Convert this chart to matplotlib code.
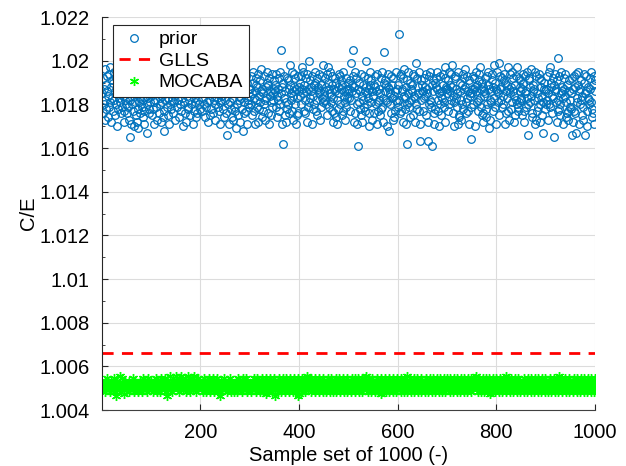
import numpy as np
import matplotlib
matplotlib.use('Agg')
import matplotlib.pyplot as plt

plt.rcParams['font.family'] = ['Liberation Sans', 'DejaVu Sans']

# prior C/E per sample: one character per sample, value = 1.0160 + 0.0001 * level
LEVELS = '0123456789abcdefghijklmnopqrstuvwxyzABCDEFGHIJKLMNOPQRSTUVWXYZ'
prior_codes = [
    'pgwkrAdmtiqxeoyjBlscvnhuzmfqkwaryiDnltgpvjoxchsmkq',
    'ngrjxd5mubkqhtoaylfpwci9lsgnkvjqexmhbpuork7ntigqls',
    'ofwirlbtmxjpdqsgykncvoleuh8rmAqjtfnxbkpsiwmgzoldrq',
    'qjxmuetBkpzhsnawlqgyrcovjiDmtfpkxqbunhrlzesgwmCkpi',
    'sqhxnBkrezjtplwcqmyfuiosAgmvkdrpxntjqhzlbwmsoiueyq',
    'mgrw6kpubtlxiqendsjyhp9rkfvmowcnqitz8lgsphxubkmrjo',
    'rkxpfuzhnqbtmwjsycoivlqAerphxkdmsnuzgtbwoqlfyjpmrv',
    'tqjyoermwhzkpJbsu2nxfqlciwvkrgtCpmhzodsyqkwbrnfxgq',
    'suoxkrBzphtmgwqycjrlEnvsqbxiotkzuhmfwrspyqdtjnxlCo',
    'qwmskyfuBrjpzolxhtcnrgwquebmsipyxkvrfthzoqdlwjnrpu',
    'rnvhDmtqJxcsgzpwbkr1luiqyfoctmxjqhsEpknwagrtzvldqo',
    'ogtsxkqbyhlrmpfwizjncIuqvtmlasyr8kpgxtndwoeqhzmlrj',
    'tQmxghyqrcwAoinsb2vkzpljuemrtqyfoxcnDkwipshzb3vmqt',
    'qhwnsoyfrp3cxkmzlj1tqvgbuiswrzhmpaxkofnqtyjlBcwrsp',
    'rvhzktqymCsgolaxwnrjpbzfeuqdmtkyiwrsAlgnxhqvbpo4jr',
    'pxkrwaszqtlhmvyBnjrfusgcqopwiexktz9rmdqlyvhsnCjubr',
    'qzlpDfrxmsjwkoyvbuqgtnBhdrpyislzwqcotfxmkBhjwlsqvn',
    'mrfuyhcpxjqnz6kwvlsoAgetqmrbzdxhpnjywkcsvofl7ruiqk',
    'rxmdpzkBjusognwt5yqlrcvhmFixfkpzsqbnrwoyeltgdhvqmj',
    'pi6wcrxhsgy7lnztqbrkmvfodjuyp6xqhasnmkrwlzeigtxbvq',
]

# MOCABA C/E per sample: one digit per sample, value = 1.00465 + 0.0001 * digit
mocaba_codes = [
    '45364527438546352473645384526037453649528364517435',
    '64537243564538264735462534736452843654736254836457',
    '35462753648253746528364573648250736459364528374659',
    '46537284659374536485273649538274658394637254836475',
    '54362748536274538462735468274536482753640725364853',
    '36452746358274635426374528364735462837456382746354',
    '45263748536274583647253648273546182736453847263548',
    '60453627485362748536274835462738453627483546273801',
    '54637284536274598365473826453748263547382645374826',
    '45362748536274836452736482536478253647382536472853',
    '53647285364728536478253647825364789364725836472583',
    '46352748362547381625374836254738264537482635472836',
    '54637285364728536492536478253647825364782536472853',
    '45362748536274853627485362748536274853627485362748',
    '53647285364728536472853647285364728536472853647285',
    '46375849536274853627485362748536274813627485362748',
    '35462748536274853692748536274853627485362748536274',
    '54637285364728536472853647285364728536472853647285',
    '46352748362547386253748362594738264537482635472836',
    '53647285364728536472853647285364728536472853647285',
]

glls_value = 1.00660

prior = np.array([1.0160 + 0.0001 * LEVELS.index(c) for c in ''.join(prior_codes)])
mocaba = np.array([1.00465 + 0.0001 * int(c) for c in ''.join(mocaba_codes)])
x_prior = np.arange(1, len(prior) + 1)
x_mocaba = np.arange(1, len(mocaba) + 1)

fig = plt.figure(figsize=(6.26, 4.66), dpi=100)
ax = fig.add_axes([0.163, 0.12, 0.7875, 0.8435])

ax.plot(x_prior, prior, 'o', mfc='none', mec='#0072BD', ms=5.5, mew=0.9, label='prior')
ax.plot([1, 1000], [glls_value, glls_value], '--', color='#FF0000', lw=2,
        dashes=(4, 3), label='GLLS')
ax.plot(x_mocaba, mocaba, ls='none', marker=(6, 2, 0), color='#00FF00', ms=6.5,
        mew=1.0, label='MOCABA')

ax.set_xlim(1, 1000)
ax.set_ylim(1.004, 1.022)
ax.set_xticks([200, 400, 600, 800, 1000])
ax.set_yticks(np.arange(1.004, 1.0221, 0.002))
ax.set_yticklabels(['1.004', '1.006', '1.008', '1.01', '1.012', '1.014',
                    '1.016', '1.018', '1.02', '1.022'])
ax.set_yticks(np.arange(1.005, 1.022, 0.002), minor=True)
ax.tick_params(direction='in', labelsize=14.5, length=4, color='#262626')
ax.tick_params(axis='y', pad=9)
ax.tick_params(axis='x', pad=9)
ax.tick_params(which='minor', direction='in', length=2.5, color='#262626')
ax.grid(True, color='#dcdcdc', lw=0.8)
ax.set_axisbelow(True)
for side in ['top', 'right']:
    ax.spines[side].set_visible(False)
ax.spines['left'].set_color('#262626')
ax.spines['bottom'].set_color('#404040')

ax.set_xlabel('Sample set of 1000 (-)', fontsize=14.5, labelpad=3)
ax.set_ylabel('C/E', fontsize=14.5, labelpad=1)

leg = ax.legend(loc='upper left', bbox_to_anchor=(0.022, 0.98), fontsize=14,
                frameon=True, fancybox=False, framealpha=1, edgecolor='#262626',
                handlelength=1.6, borderpad=0.3, labelspacing=0.2,
                handletextpad=0.45, borderaxespad=0.0)
leg.get_frame().set_linewidth(0.8)

fig.savefig('out.png', dpi=100)
